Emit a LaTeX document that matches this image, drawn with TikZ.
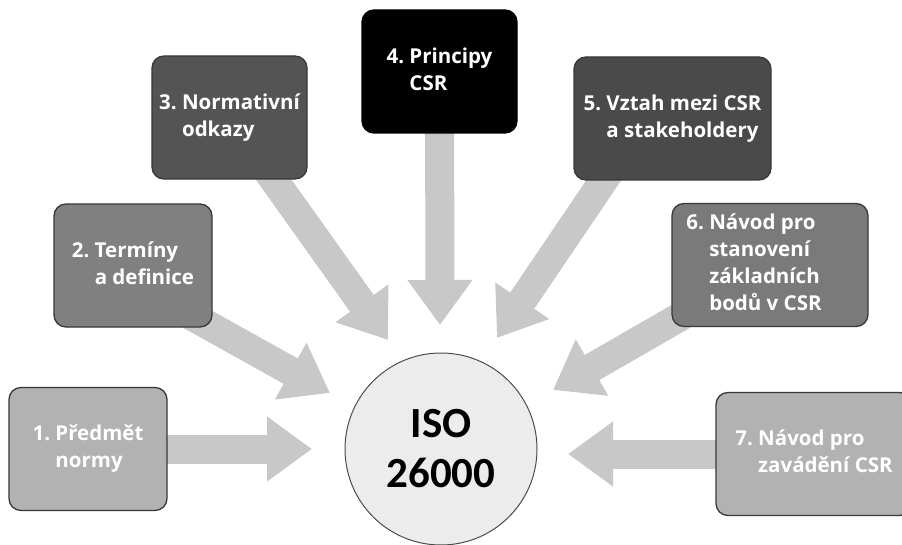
\documentclass[tikz,border=0pt]{standalone}
\usepackage{fontspec}
\setmainfont{Open Sans}
\newfontfamily\isofont{Carlito}
\usetikzlibrary{arrows.meta,backgrounds}

\definecolor{arrowgray}{HTML}{C8C8C8}
\definecolor{circlegray}{HTML}{ECECEC}
\newcommand{\numtext}[2]{\begin{tabular}{@{}l@{\ }l@{}}#1&\begin{tabular}[t]{@{}l@{}}#2\end{tabular}\end{tabular}}

\begin{document}
\begin{tikzpicture}[x=1pt,y=-1pt,>={Triangle[width=62pt,length=45pt]}]
    \tikzstyle{every node}=[font=\fontsize{20.5}{27}\selectfont\bfseries,text=white,inner sep=0pt];
    \tikzstyle{part}=[draw=black!78,line width=1.3pt,rounded corners=12pt,minimum height=123pt];
    \tikzstyle{bigarrow}=[draw=arrowgray,line width=29pt,->,shorten <=-30pt];

    \useasboundingbox (0,0) rectangle (902,545);

    \node[part,fill=black!30,minimum width=158pt] (n1) at (88,449) {\numtext{1.}{Předmět\\normy}};
    \node[part,fill=black!50,minimum width=158pt] (n2) at (133,265.5) {\numtext{2.}{Termíny\\a definice}};
    \node[part,fill=black!67,minimum width=155pt] (n3) at (229.5,117.5) {\numtext{3.}{Normativní\\odkazy}};
    \node[part,fill=black,draw=black,minimum width=155pt] (n4) at (439.5,71.5) {\numtext{4.}{Principy\\CSR}};
    \node[part,fill=black!71,minimum width=197pt] (n5) at (672.5,118.5) {\numtext{5.}{Vztah mezi CSR\\a stakeholdery}};
    \node[part,fill=black!52,minimum width=196pt] (n6) at (770,265) {\numtext{6.}{Návod pro\\stanovení\\základních\\bodů v CSR}\hspace{32pt}\mbox{}};
    \node[part,fill=black!30,minimum width=196pt] (n7) at (814,454) {\numtext{7.}{Návod pro\\zavádění CSR}};

    \node[circle,draw=black!70,line width=1pt,fill=circlegray,minimum size=192pt,text=black,align=center,font=\isofont\fontsize{43}{50}\selectfont\bfseries] (n0) at (441,449) {ISO\\26000};

    \coordinate (p1) at (312,449);
    \coordinate (p2) at (330,393);
    \coordinate (p3) at (388,340);
    \coordinate (p4) at (440,325);
    \coordinate (p5) at (497,338);
    \coordinate (p6) at (553,390);
    \coordinate (p7) at (568,454);

    \begin{pgfonlayer}{background}
    \draw[bigarrow] (n1) -- (p1);
    \draw[bigarrow] (n2.south east) -- (p2);
    \draw[bigarrow] (n3) -- (p3);
    \draw[bigarrow] (n4) -- (p4);
    \draw[bigarrow] (n5.222) -- (p5);
    \draw[bigarrow] (n6) -- (p6);
    \draw[bigarrow] (n7) -- (p7);
    \end{pgfonlayer}

\end{tikzpicture}
\end{document}
